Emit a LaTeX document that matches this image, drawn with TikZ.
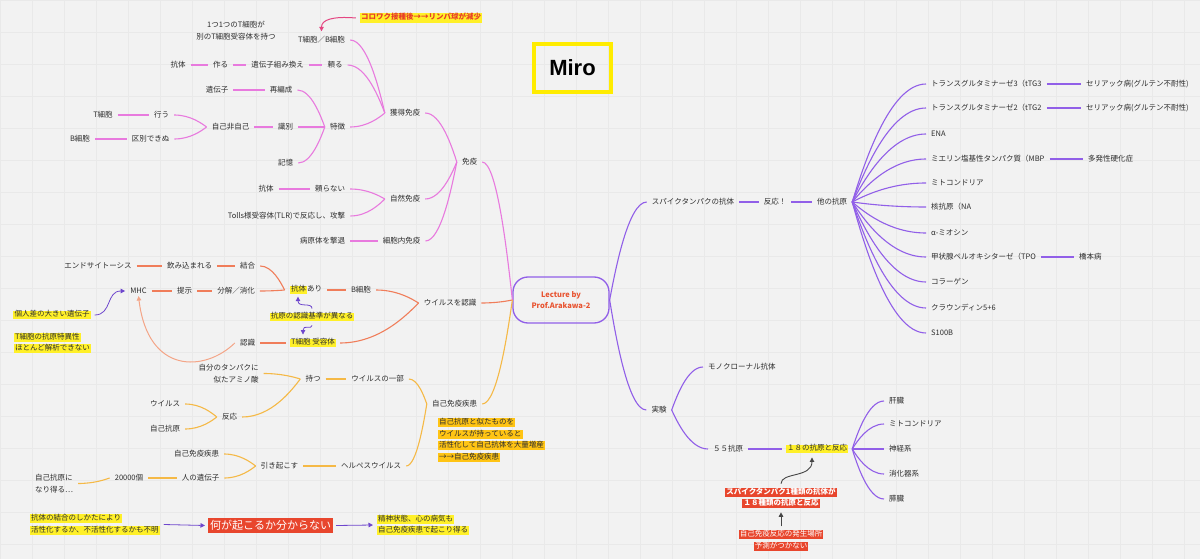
\documentclass[tikz,border=0pt]{standalone}
\usepackage{fontspec}
\setmainfont{Noto Sans CJK JP}
\newfontfamily\mirofont{Liberation Sans}
\usetikzlibrary{calc,arrows.meta}
\definecolor{bgc}{RGB}{242,242,242}
\definecolor{gridc}{RGB}{233,233,233}
\definecolor{txt}{RGB}{45,45,45}
\definecolor{pkc}{RGB}{232,122,222}
\definecolor{orc}{RGB}{240,125,90}
\definecolor{orlite}{RGB}{244,165,135}
\definecolor{yoc}{RGB}{245,185,70}
\definecolor{puc}{RGB}{145,95,232}
\definecolor{pua}{RGB}{110,70,205}
\definecolor{hly}{RGB}{255,240,40}
\definecolor{hlo}{RGB}{255,196,20}
\definecolor{redc}{RGB}{232,70,45}
\definecolor{redtxt}{RGB}{232,60,40}
\definecolor{ctr}{RGB}{232,85,50}
\definecolor{mirox}{RGB}{255,236,0}
\definecolor{korc}{RGB}{228,70,130}
\definecolor{darka}{RGB}{70,70,70}
\newcommand{\fsz}{\fontsize{7.5}{11.5}\selectfont}
\newcommand{\hlx}[2]{{\setlength{\fboxsep}{0pt}\colorbox{#1}{\hspace{1.2pt}\rule[-2.6pt]{0pt}{8.6pt}#2\hspace{1.2pt}}}}
\begin{document}
\begin{tikzpicture}[x=1pt,y=-1pt,
  tx/.style={text=txt, inner xsep=5pt, inner ysep=2pt, font=\fsz},
  hl/.style={text=txt, inner sep=0pt, outer sep=4pt, font=\fsz},
  pk/.style={draw=pkc, line width=1.1pt},
  orl/.style={draw=orc, line width=1.1pt},
  yol/.style={draw=yoc, line width=1.1pt},
  pul/.style={draw=puc, line width=1.1pt},
  tip/.style={-{Triangle[width=4.5pt,length=4.5pt]}},
  mm/.style={to path={let \p1=(\tikztostart), \p2=(\tikztotarget) in
     .. controls ({0.5*\x1+0.5*\x2},\y1) and ({\x2+0.15*(\x1-\x2)},{\y2+0.3*(\y1-\y2)}) .. (\tikztotarget)}}
]
\useasboundingbox (0,0) rectangle (1200,559);
\fill[bgc] (0,0) rectangle (1200,559);
\draw[gridc, line width=0.5pt, step=32pt] (0,0) grid (1200,559);

% root and title
\node[draw=puc, line width=1.3pt, rounded corners=15pt, minimum width=96pt, minimum height=46pt,
  text=ctr, font=\fontsize{7.5}{11}\selectfont\bfseries, align=center] (root) at (561,300) {Lecture by\\Prof.Arakawa-2};
\node[draw=mirox, line width=4pt, minimum width=77pt, minimum height=48pt,
  font=\mirofont\fontsize{22}{24}\selectfont\bfseries] (miro) at (572.5,68) {Miro};

% ---------- pink branch ----------
\node[tx] (men) at (469.5,162) {免疫};
\node[tx] (kaku) at (405,113) {獲得免疫};
\node[tx] (shizen) at (405,199) {自然免疫};
\node[tx] (naibu) at (401.5,241) {細胞内免疫};
\node[tx] (tb) at (321.5,40) {T細胞／B細胞};
\node[tx] (tayoru) at (335,65) {頼る};
\node[tx] (toku) at (337.5,127) {特徴};
\node[tx,align=center] (hito1) at (236,30.5) {1つ1つのT細胞が\\別のT細胞受容体を持つ};
\node[hl, font=\fsz\bfseries, text=redtxt] (koro) at (421,18) {\hlx{hly}{コロワク接種後→→リンパ球が減少}};
\node[tx] (kumikae) at (277.5,65) {遺伝子組み換え};
\node[tx] (tsukuru) at (220.5,65) {作る};
\node[tx] (kotai1) at (178,65) {抗体};
\node[tx] (saihen) at (281,90) {再編成};
\node[tx] (idenshi) at (217,90) {遺伝子};
\node[tx] (shiki) at (285.5,127) {識別};
\node[tx] (kioku) at (285.5,163) {記憶};
\node[tx] (jhj) at (230.5,127) {自己非自己};
\node[tx] (okonau) at (161.5,115) {行う};
\node[tx] (kubetsu) at (150.5,139) {区別できぬ};
\node[tx] (tcell) at (103,115) {T細胞};
\node[tx] (bcell) at (80,139) {B細胞};
\node[tx] (tayoranai) at (330,189) {頼らない};
\node[tx] (tolls) at (286.5,216) {Tolls様受容体(TLR)で反応し、攻撃};
\node[tx] (kotai2) at (266,189) {抗体};
\node[tx] (byogen) at (322.5,241) {病原体を撃退};

\draw[pk] (men.east) to[mm] (root.west);
\draw[pk] (kaku.east) to[mm] (men.west);
\draw[pk] (shizen.east) to[mm] (men.west);
\draw[pk] (naibu.east) to[mm] (men.west);
\draw[pk] (tb.east) to[mm] (kaku.west);
\draw[pk] (tayoru.east) to[mm] (kaku.west);
\draw[pk] (toku.east) to[mm] (kaku.west);
\draw[pk] (kotai1.east) -- (tsukuru.west);
\draw[pk] (tsukuru.east) -- (kumikae.west);
\draw[pk] (kumikae.east) -- (tayoru.west);
\draw[pk] (saihen.east) to[mm] (toku.west);
\draw[pk] (shiki.east) to[mm] (toku.west);
\draw[pk] (kioku.east) to[mm] (toku.west);
\draw[pk] (idenshi.east) -- (saihen.west);
\draw[pk] (jhj.east) -- (shiki.west);
\draw[pk] (okonau.east) to[mm] (jhj.west);
\draw[pk] (kubetsu.east) to[mm] (jhj.west);
\draw[pk] (tcell.east) -- (okonau.west);
\draw[pk] (bcell.east) -- (kubetsu.west);
\draw[pk] (tayoranai.east) to[mm] (shizen.west);
\draw[pk] (tolls.east) to[mm] (shizen.west);
\draw[pk] (kotai2.east) -- (tayoranai.west);
\draw[pk] (byogen.east) -- (naibu.west);
\draw[korc, line width=1pt, tip, shorten >=3pt] (koro.west) .. controls (332,16) and (321.5,20) .. (tb.north);

% ---------- orange branch ----------
\node[tx] (uir) at (450,303) {ウイルスを認識};
\node[tx] (bc2) at (361,290) {B細胞};
\node[hl] (tcr) at (313,343) {\hlx{hly}{T細胞 受容体}};
\node[tx] (ari) at (306,290) {\hlx{hly}{抗体}あり};
\node[tx] (ketsu) at (247.5,266) {結合};
\node[tx] (bunkai) at (236,291) {分解／消化};
\node[tx] (nomi) at (189.5,266) {飲み込まれる};
\node[tx] (endo) at (98,266) {エンドサイトーシス};
\node[tx] (teiji) at (184.5,291) {提示};
\node[tx] (mhc) at (138.5,291) {MHC};
\node[tx] (nin) at (247.5,343) {認識};
\node[hl] (kojin) at (52,315) {\hlx{hly}{個人差の大きい遺伝子}};
\node[hl, align=left, anchor=west] (tokui) at (10,343) {\hlx{hly}{T細胞の抗原特異性}\\\hlx{hly}{ほとんど解析できない}};
\node[hl] (kijun) at (312,317) {\hlx{hly}{抗原の認識基準が異なる}};

\draw[orl] (uir.east) to[mm] (root.west);
\draw[orl] (bc2.east) to[mm] (uir.west);
\draw[orl] (tcr.east) to[mm] (uir.west);
\draw[orl] (ari.east) -- (bc2.west);
\draw[orl] (ketsu.east) to[mm] (ari.west);
\draw[orl] (bunkai.east) to[mm] (ari.west);
\draw[orl] (nomi.east) -- (ketsu.west);
\draw[orl] (endo.east) -- (nomi.west);
\draw[orl] (teiji.east) -- (bunkai.west);
\draw[orl] (mhc.east) -- (teiji.west);
\draw[orl] (nin.east) -- (tcr.west);
\draw[draw=orlite, line width=1pt, tip] (nin.west) .. controls (205,372) and (148,375) .. (mhc.south);
\draw[pua, line width=0.8pt, tip] (kojin.east) .. controls (112,315) and (106,291) .. (mhc.west);
\draw[pua, line width=0.8pt, tip] (kijun.north) .. controls (312,302) and (298,308) .. ([xshift=-8pt]ari.south);
\draw[pua, line width=0.8pt, tip] (kijun.south) .. controls (312,330) and (303,324) .. ([xshift=-10pt]tcr.north);

% ---------- yellow branch ----------
\node[tx] (jiko) at (454.5,404) {自己免疫疾患};
\node[tx] (ichibu) at (377.5,379) {ウイルスの一部};
\node[tx] (herpes) at (371,466) {ヘルペスウイルス};
\node[tx] (motsu) at (313,379) {持つ};
\node[tx,align=right] (jibun) at (228.5,373.5) {自分のタンパクに\\似たアミノ酸};
\node[tx] (hanno) at (229.5,417) {反応};
\node[tx] (uir2) at (165,404) {ウイルス};
\node[tx] (jkogen) at (165,429) {自己抗原};
\node[tx] (hiki) at (279.5,466) {引き起こす};
\node[tx] (jiko2) at (196.5,454) {自己免疫疾患};
\node[tx] (hito) at (200.5,478) {人の遺伝子};
\node[tx] (n2) at (129,478) {20000個};
\node[tx,align=center] (naru) at (54,483.5) {自己抗原に\\なり得る…};
\node[hl, align=left, anchor=west] (note1) at (434,440) {\hlx{hlo}{自己抗原と似たものを}\\\hlx{hlo}{ウイルスが持っていると}\\\hlx{hlo}{活性化して自己抗体を大量増産}\\\hlx{hlo}{→→自己免疫疾患}};

\draw[yol] (jiko.east) to[mm] (root.west);
\draw[yol] (ichibu.east) to[mm] (jiko.west);
\draw[yol] (herpes.east) to[mm] (jiko.west);
\draw[yol] (motsu.east) -- (ichibu.west);
\draw[yol] (jibun.east) to[mm] (motsu.west);
\draw[yol] (hanno.east) to[mm] (motsu.west);
\draw[yol] (uir2.east) to[mm] (hanno.west);
\draw[yol] (jkogen.east) to[mm] (hanno.west);
\draw[yol] (hiki.east) -- (herpes.west);
\draw[yol] (jiko2.east) to[mm] (hiki.west);
\draw[yol] (hito.east) to[mm] (hiki.west);
\draw[yol] (n2.east) -- (hito.west);
\draw[yol] (naru.east) to[mm] (n2.west);

% ---------- bottom notes ----------
\node[hl, align=left, anchor=west] (note2) at (26,524.5) {\hlx{hly}{抗体の結合のしかたにより}\\\hlx{hly}{活性化するか、不活性化するかも不明}};
\node[fill=redc, text=white, inner sep=2pt, outer sep=3pt, font=\fontsize{11}{13}\selectfont] (nani) at (270.5,525.5) {何が起こるか分からない};
\node[hl, align=left, anchor=west] (seishin) at (373,525) {\hlx{hly}{精神状態、心の病気も}\\\hlx{hly}{自己免疫疾患で起こり得る}};
\draw[pua, line width=0.8pt, tip] (note2.east) -- (nani.west);
\draw[pua, line width=0.8pt, tip] (nani.east) -- (seishin.west);

% ---------- purple right ----------
\node[tx] (spike) at (693,202) {スパイクタンパクの抗体};
\node[tx] (hanno2) at (775,202) {反応！};
\node[tx] (hoka) at (832,202) {他の抗原};
\node[tx,anchor=west] (a1) at (926,84) {トランスグルタミナーゼ3（tTG3};
\node[tx,anchor=west] (a2) at (926,108) {トランスグルタミナーゼ2（tTG2};
\node[tx,anchor=west] (a3) at (926,134) {ENA};
\node[tx,anchor=west] (a4) at (926,159) {ミエリン塩基性タンパク質（MBP};
\node[tx,anchor=west] (a5) at (926,183) {ミトコンドリア};
\node[tx,anchor=west] (a6) at (926,207) {核抗原（NA};
\node[tx,anchor=west] (a7) at (926,233) {α-ミオシン};
\node[tx,anchor=west] (a8) at (926,257) {甲状腺ペルオキシターゼ（TPO};
\node[tx,anchor=west] (a9) at (926,282) {コラーゲン};
\node[tx,anchor=west] (a10) at (926,308) {クラウンディン5+6};
\node[tx,anchor=west] (a11) at (926,333) {S100B};
\node[tx,anchor=west] (c1) at (1081,84) {セリアック病(グルテン不耐性)};
\node[tx,anchor=west] (c2) at (1081,108) {セリアック病(グルテン不耐性)};
\node[tx,anchor=west] (c4) at (1083,159) {多発性硬化症};
\node[tx,anchor=west] (c8) at (1074,257) {橋本病};

\draw[pul] (spike.west) to[mm] (root.east);
\draw[pul] (spike.east) -- (hanno2.west);
\draw[pul] (hanno2.east) -- (hoka.west);
\foreach \i in {1,...,11} {\draw[pul] (a\i.west) to[mm] (hoka.east);}
\draw[pul] (a1.east) -- (c1.west);
\draw[pul] (a2.east) -- (c2.west);
\draw[pul] (a4.east) -- (c4.west);
\draw[pul] (a8.east) -- (c8.west);

\node[tx] (jikken) at (659,410) {実験};
\node[tx,anchor=west] (mono) at (703,367) {モノクローナル抗体};
\node[tx,anchor=west] (g55) at (708,449) {５５抗原};
\node[hl] (j18) at (817,449) {\hlx{hly}{１８の抗原と反応}};
\node[tx,anchor=west] (o1) at (884,401) {肝臓};
\node[tx,anchor=west] (o2) at (884,424) {ミトコンドリア};
\node[tx,anchor=west] (o3) at (884,449) {神経系};
\node[tx,anchor=west] (o4) at (884,474) {消化器系};
\node[tx,anchor=west] (o5) at (884,499) {膵臓};

\draw[pul] (jikken.west) to[mm] (root.east);
\draw[pul] (mono.west) to[mm] (jikken.east);
\draw[pul] (g55.west) to[mm] (jikken.east);
\draw[pul] (g55.east) -- (j18.west);
\foreach \i in {1,...,5} {\draw[pul] (o\i.west) to[mm] (j18.east);}

\node[hl, align=center, font=\fsz\bfseries, text=white] (red1) at (781,498) {\hlx{redc}{スパイクタンパク1種類の抗体が}\\\hlx{redc}{１８種類の抗原と反応}};
\node[hl, align=center, font=\fsz, text=white] (red2) at (781,540.5) {\hlx{redc}{自己免疫反応の発生場所}\\\hlx{redc}{予測がつかない}};
\draw[darka, line width=0.9pt, tip] (red1.north) .. controls (781,472) and (812,478) .. ([xshift=-5pt]j18.south);
\draw[darka, line width=0.9pt, tip] (red2.north) -- (red1.south);
\end{tikzpicture}
\end{document}
